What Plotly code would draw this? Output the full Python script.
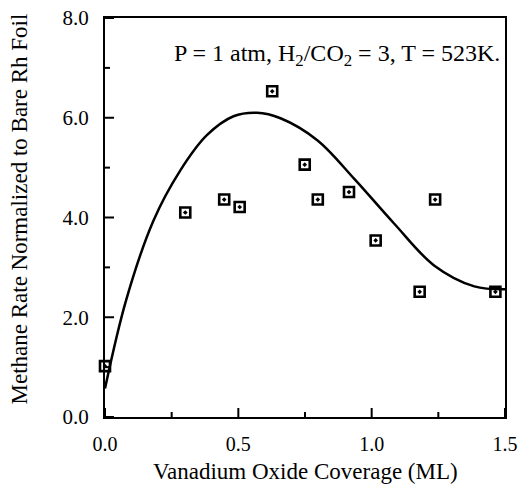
import plotly.graph_objects as go

coverage = [0.0, 0.301, 0.447, 0.505, 0.627, 0.749, 0.798, 0.915, 1.015, 1.180, 1.238, 1.464]
rate = [1.02, 4.10, 4.36, 4.21, 6.53, 5.06, 4.36, 4.51, 3.54, 2.51, 4.36, 2.51]

fit_x = [0.0, 0.079, 0.182, 0.282, 0.382, 0.482, 0.57, 0.658, 0.796, 0.934, 1.084, 1.234, 1.385, 1.5]
fit_y = [0.57, 2.34, 3.94, 4.94, 5.65, 6.03, 6.10, 5.99, 5.55, 4.78, 3.88, 3.04, 2.62, 2.56]

x_range = [0, 1.5]
y_range = [0, 8]
x_major = [0.0, 0.5, 1.0, 1.5]
x_minor = [0.25, 0.75, 1.25]
y_major = [0.0, 2.0, 4.0, 6.0, 8.0]
y_minor = [1.0, 3.0, 5.0, 7.0]

x_title = "Vanadium Oxide Coverage (ML)"
y_title = "Methane Rate Normalized to Bare Rh Foil"
note = "P = 1 atm, H<sub>2</sub>/CO<sub>2</sub> = 3, T = 523K."

serif = "Liberation Serif, Times New Roman, serif"

fig = go.Figure()
fig.add_trace(go.Scatter(x=fit_x, y=fit_y, mode="lines",
                         line=dict(color="black", width=2.5, shape="spline", smoothing=1.0),
                         showlegend=False, hoverinfo="skip"))
fig.add_trace(go.Scatter(x=coverage, y=rate, mode="markers",
                         marker=dict(symbol="square-open-dot", size=10, color="black",
                                     line=dict(color="black", width=2.6)),
                         showlegend=False, cliponaxis=False))

# inward tick marks, positioned by the axes' own scales, length in pixels
tick_line = dict(color="black", width=2)
for vals, length in ((x_major, 9), (x_minor, 5)):
    for v in vals:
        fig.add_shape(type="line", xref="x", yref="y", ysizemode="pixel", yanchor=y_range[0],
                      x0=v, x1=v, y0=0, y1=length, line=tick_line, layer="above")
for vals, length in ((y_major, 9), (y_minor, 5)):
    for v in vals:
        fig.add_shape(type="line", xref="x", yref="y", xsizemode="pixel", xanchor=x_range[0],
                      y0=v, y1=v, x0=0, x1=length, line=tick_line, layer="above")

fig.update_layout(
    width=525, height=486,
    margin=dict(l=105, r=20, t=18, b=69, autoexpand=False),
    plot_bgcolor="white", paper_bgcolor="white",
    font=dict(family=serif, color="black", size=20),
    xaxis=dict(range=x_range, tickvals=x_major, tickformat=".1f", ticks="",
               showline=True, linecolor="black", linewidth=2, mirror=True,
               showgrid=False, zeroline=False, ticklabelstandoff=8,
               tickfont=dict(family=serif, size=20)),
    yaxis=dict(range=y_range, tickvals=y_major, tickformat=".1f", ticks="",
               showline=True, linecolor="black", linewidth=2, mirror=True,
               showgrid=False, zeroline=False, ticklabelstandoff=10,
               tickfont=dict(family=serif, size=21)),
    annotations=[
        dict(x=1.49, y=7.25, xref="x", yref="y", xanchor="right", yanchor="middle",
             text=note, showarrow=False, font=dict(family=serif, size=24, color="black")),
        dict(x=-0.2125, y=0.52, xref="paper", yref="paper", xanchor="center", yanchor="middle",
             text=y_title, textangle=-90, showarrow=False, font=dict(family=serif, size=23, color="black")),
        dict(x=0.5, y=-0.136, xref="paper", yref="paper", xanchor="center", yanchor="middle",
             text=x_title, showarrow=False, font=dict(family=serif, size=23, color="black")),
    ],
)

fig.write_html("out.html")
